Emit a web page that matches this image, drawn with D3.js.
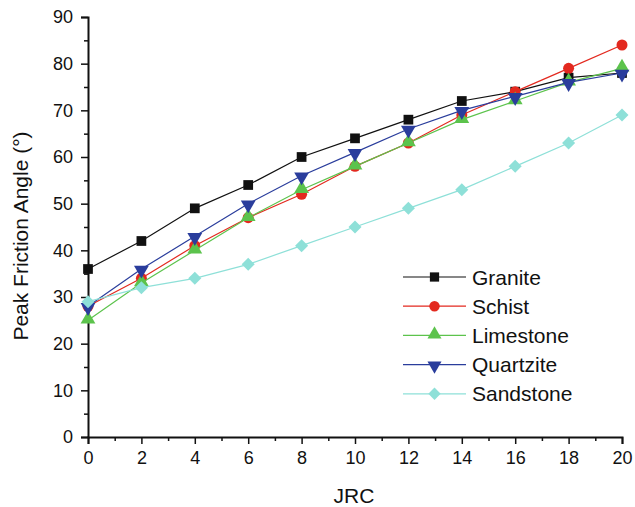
<!DOCTYPE html>
<html><head><meta charset="utf-8">
<script src="https://cdn.jsdelivr.net/npm/d3@7"></script>
<style>body{margin:0;background:#fff}svg{display:block;font-family:"Liberation Sans",Arial,sans-serif}</style>
</head><body><svg id="c" width="635" height="507"></svg>
<script>
const jrc = [0,2,4,6,8,10,12,14,16,18,20];
const seriesNames = ["Granite","Schist","Limestone","Quartzite","Sandstone"];
const granite   = [36,42,49,54,60,64,68,72,74,77,78];
const schist    = [28,34,41,47,52,58,63,69,74,79,84];
const limestone = [25,33,40,47,53,58,63,68,72,76,79];
const quartzite = [28,36,43,50,56,61,66,70,73,76,78];
const sandstone = [29,32,34,37,41,45,49,53,58,63,69];
const xTicks = [0,2,4,6,8,10,12,14,16,18,20];
const yTicks = [0,10,20,30,40,50,60,70,80,90];
const colors = ["#111111","#e3291f","#5cc34c","#2a3d9c","#8ee0d8"];
const allData = [granite, schist, limestone, quartzite, sandstone];

const svg = d3.select("#c");
const x = d3.scaleLinear().domain([0,20]).range([88,622]);
const y = d3.scaleLinear().domain([0,90]).range([437,17]);

// axes
const xa = svg.append("g").attr("transform","translate(0,437)")
  .call(d3.axisBottom(x).tickValues(xTicks).tickSize(7).tickPadding(7).tickFormat(d3.format("d")));
const xm = svg.append("g").attr("transform","translate(0,437)")
  .call(d3.axisBottom(x).tickValues(d3.range(1,20,2)).tickSize(4).tickFormat(""));
const ya = svg.append("g").attr("transform","translate(88,0)")
  .call(d3.axisLeft(y).tickValues(yTicks).tickSize(7).tickPadding(8));
const ym = svg.append("g").attr("transform","translate(88,0)")
  .call(d3.axisLeft(y).tickValues(d3.range(5,90,10)).tickSize(4).tickFormat(""));
[xa,xm,ya,ym].forEach(g=>{
  g.select(".domain").attr("stroke","#111").attr("stroke-width",2);
  g.selectAll(".tick line").attr("stroke","#111").attr("stroke-width",1.5);
  g.selectAll("text").attr("font-size",18).attr("fill","#111").attr("font-family","Liberation Sans, Arial, sans-serif");
});
xm.select(".domain").remove(); ym.select(".domain").remove();

svg.append("text").attr("x",354).attr("y",503).attr("text-anchor","middle")
  .attr("font-size",21).attr("fill","#111").text("JRC");
svg.append("text").attr("transform","translate(28,236) rotate(-90)").attr("text-anchor","middle")
  .attr("font-size",21).attr("fill","#111").text("Peak Friction Angle (°)");

function marker(g, i, cx, cy, k){
  k = k || 1;
  let d, tr = `translate(${cx},${cy})`;
  if (i===0) d = d3.symbol(d3.symbolSquare).size(95*k)();
  else if (i===1) d = d3.symbol(d3.symbolCircle).size(95*k)();
  else if (i===2) { d = d3.symbol(d3.symbolTriangle).size(95*k)(); tr = `translate(${cx},${cy-1})`; }
  else if (i===3) { d = d3.symbol(d3.symbolTriangle).size(95*k)(); tr = `translate(${cx},${cy+1}) rotate(180)`; }
  else { d = d3.symbol(d3.symbolSquare).size(85*k)(); tr = `translate(${cx},${cy}) rotate(45)`; }
  g.append("path").attr("d", d).attr("transform", tr).attr("fill", colors[i]);
}

const line = d3.line().x((d,j)=>x(jrc[j])).y(d=>y(d));
allData.forEach((arr,i)=>{
  const g = svg.append("g");
  g.append("path").datum(arr).attr("d",line).attr("fill","none")
    .attr("stroke",colors[i]).attr("stroke-width",1.2);
  arr.forEach((v,j)=>marker(g,i,x(jrc[j]),y(v)));
});

// legend
const lg = svg.append("g");
seriesNames.forEach((n,i)=>{
  const yy = 277 + i*29.2;
  lg.append("line").attr("x1",403).attr("x2",466).attr("y1",yy).attr("y2",yy)
    .attr("stroke",colors[i]).attr("stroke-width",1.2);
  marker(lg,i,434.5,yy,0.9);
  lg.append("text").attr("x",472).attr("y",yy+7.5).attr("font-size",21).attr("fill","#111").text(n);
});
</script></body></html>
